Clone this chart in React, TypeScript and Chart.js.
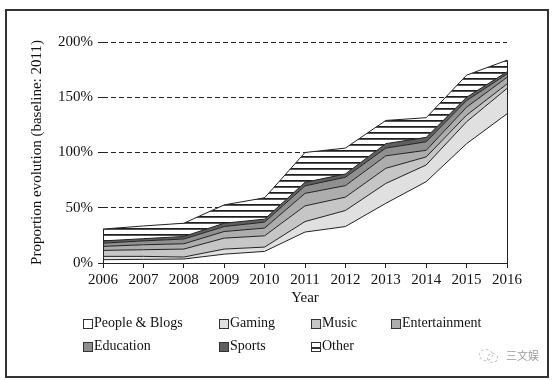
import React, { useEffect, useRef } from 'react';
import { Chart, registerables } from 'chart.js';

Chart.register(...registerables);

const years = ['2006', '2007', '2008', '2009', '2010', '2011', '2012', '2013', '2014', '2015', '2016'];
const peopleBlogs = [3, 3.3, 3.6, 8, 10.5, 28, 33, 54, 73.6, 108, 135];
const gaming = [3, 2.7, 1.8, 4.6, 3.9, 9.5, 14.5, 18, 15.1, 19.8, 23];
const music = [5.4, 6, 7.2, 9.9, 10.2, 14.2, 12.1, 13.7, 7.3, 6, 4];
const entertainment = [3.6, 4.5, 4.8, 6, 7, 11.3, 10.4, 11.3, 6, 7.2, 6];
const education = [3, 3.5, 4.3, 4.5, 5.4, 6.8, 7.6, 7, 7.7, 6, 3];
const sports = [2, 2, 2.3, 3, 2.7, 3.2, 3, 4, 4, 3, 2];
const other = [10.7, 11.5, 12, 16.6, 19.3, 27, 23.4, 21, 17.8, 20, 10.5];

const seriesNames = ['People & Blogs', 'Gaming', 'Music', 'Entertainment', 'Education', 'Sports', 'Other'];
const seriesValues = [peopleBlogs, gaming, music, entertainment, education, sports, other];
const seriesColors = ['#ffffff', '#e0e0e0', '#c6c6c6', '#adadad', '#8f8f8f', '#5f5f5f', 'hatch'];

const yAxisTitle = 'Proportion evolution (baseline: 2011)';
const xAxisTitle = 'Year';
const watermark = '三文娱';

const FONT = '"Liberation Serif", "Times New Roman", serif';

function makeHatch(): CanvasPattern | string {
  const c = document.createElement('canvas');
  c.width = 8;
  c.height = 6;
  const g = c.getContext('2d');
  if (!g) return '#fff';
  g.fillStyle = '#ffffff';
  g.fillRect(0, 0, 8, 6);
  g.fillStyle = '#1e1e1e';
  g.fillRect(0, 0, 8, 1);
  g.fillStyle = '#555555';
  g.fillRect(0, 1, 8, 1);
  return g.createPattern(c, 'repeat') || '#fff';
}

const edgePlugin = {
  id: 'edgeLines',
  afterDatasetsDraw(chart: any) {
    const xs = chart.scales.x;
    const ys = chart.scales.y;
    const ctx = chart.ctx;
    const n = years.length;
    ctx.save();
    ctx.strokeStyle = '#222';
    ctx.lineWidth = 1;
    [0, n - 1].forEach((i) => {
      const total = seriesValues.reduce((s, arr) => s + arr[i], 0);
      const x = Math.round(xs.getPixelForValue(i)) + 0.5;
      ctx.beginPath();
      ctx.moveTo(x, ys.getPixelForValue(0));
      ctx.lineTo(x, ys.getPixelForValue(total));
      ctx.stroke();
    });
    ctx.restore();
  },
};

export default function App() {
  const ref = useRef<HTMLCanvasElement | null>(null);

  useEffect(() => {
    if (!ref.current) return;
    const hatch = makeHatch();
    const chart = new Chart(ref.current, {
      type: 'line',
      data: {
        labels: years,
        datasets: seriesValues.map((vals, i) => ({
          label: seriesNames[i],
          data: vals,
          backgroundColor: seriesColors[i] === 'hatch' ? (hatch as any) : seriesColors[i],
          borderColor: '#222',
          borderWidth: 1,
          pointRadius: 0,
          tension: 0,
          fill: i === 0 ? 'origin' : '-1',
        })),
      },
      options: {
        animation: false,
        responsive: false,
        devicePixelRatio: 1,
        layout: { padding: { top: 42, right: 49, left: 0, bottom: 0 } },
        plugins: {
          legend: { display: false },
          tooltip: { enabled: false },
        },
        scales: {
          x: {
            grid: {
              drawOnChartArea: false,
              drawTicks: true,
              tickLength: 5,
              tickColor: '#222',
              color: '#222',
            },
            border: { display: true, color: '#222', width: 1 },
            ticks: {
              color: '#111',
              padding: 3,
              maxRotation: 0,
              font: { family: FONT, size: 15 },
            },
            title: {
              display: true,
              text: xAxisTitle,
              color: '#111',
              font: { family: FONT, size: 15 },
              padding: { top: 0, bottom: 73 },
            },
            afterFit: (scale: any) => {
              scale.height = 117;
            },
          },
          y: {
            stacked: true,
            min: 0,
            max: 200,
            grid: {
              drawOnChartArea: true,
              drawTicks: true,
              tickLength: 5,
              color: '#222',
              tickColor: '#222',
              lineWidth: 1,
            },
            border: { display: false, dash: [5, 3] },
            ticks: {
              stepSize: 50,
              padding: 5,
              color: '#111',
              font: { family: FONT, size: 15 },
              callback: (v: any) => v + '%',
            },
            title: {
              display: true,
              text: yAxisTitle,
              color: '#111',
              font: { family: FONT, size: 15 },
              padding: { top: 28, bottom: 0 },
            },
            afterFit: (scale: any) => {
              scale.width = 103;
            },
          },
        },
      },
      plugins: [edgePlugin],
    });
    return () => chart.destroy();
  }, []);

  const legendCols = [83, 219, 311, 391];
  const legendRows = [323, 346];

  return (
    <div style={{ position: 'fixed', left: 0, top: 0, width: 556, height: 380, background: '#fff', overflow: 'hidden' }}>
      <div
        style={{
          position: 'absolute',
          left: 5,
          top: 9,
          width: 544,
          height: 369,
          border: '2px solid #333',
          boxSizing: 'border-box',
        }}
      />
      <canvas ref={ref} width={556} height={380} style={{ position: 'absolute', left: 0, top: 0 }} />
      {seriesNames.map((name, i) => {
        const row = i < 4 ? 0 : 1;
        const col = i % 4;
        const x = legendCols[col];
        const y = legendRows[row];
        const isHatch = seriesColors[i] === 'hatch';
        return (
          <div key={name}>
            <div
              style={{
                position: 'absolute',
                left: x,
                top: y - 4,
                width: 10,
                height: 10,
                boxSizing: 'border-box',
                border: '1px solid #333',
                background: isHatch
                  ? 'linear-gradient(#fff 0, #fff 4px, #333 4px, #333 6px, #fff 6px)'
                  : seriesColors[i],
              }}
            />
            <div
              style={{
                position: 'absolute',
                left: x + 11,
                top: y - 9,
                fontFamily: FONT,
                fontSize: 14,
                lineHeight: '18px',
                color: '#111',
                whiteSpace: 'nowrap',
              }}
            >
              {name}
            </div>
          </div>
        );
      })}
      <div
        style={{
          position: 'absolute',
          left: 479,
          top: 349,
          width: 12,
          height: 10,
          borderRadius: '50%',
          border: '1px dashed #bbb',
        }}
      />
      <div
        style={{
          position: 'absolute',
          left: 487,
          top: 353,
          width: 9,
          height: 8,
          borderRadius: '50%',
          border: '1px dashed #bbb',
        }}
      />
      <div
        style={{
          position: 'absolute',
          left: 506,
          top: 347,
          fontFamily: '"Noto Sans CJK SC", sans-serif',
          fontSize: 11,
          lineHeight: '16px',
          letterSpacing: 0,
          color: '#999',
          whiteSpace: 'nowrap',
        }}
      >
        {watermark}
      </div>
    </div>
  );
}
